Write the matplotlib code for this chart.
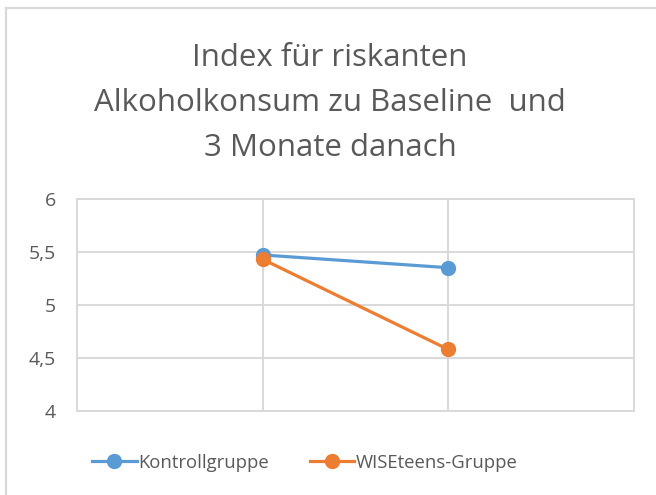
import matplotlib
matplotlib.use("Agg")
import matplotlib.pyplot as plt
from matplotlib.lines import Line2D
from matplotlib.ticker import FuncFormatter

title = "Index für riskanten\nAlkoholkonsum zu Baseline  und\n3 Monate danach"
series_names = ["Kontrollgruppe", "WISEteens-Gruppe"]
timepoints = ["Baseline", "3 Monate"]
kontroll = [5.47, 5.35]
wiseteens = [5.43, 4.58]
yticks = [4, 4.5, 5, 5.5, 6]

blue = "#5B9BD5"
orange = "#ED7D31"
grid = "#D9D9D9"
txt = "#595959"
font = "Open Sans"

fig = plt.figure(figsize=(6.56, 4.95), dpi=100)
ax = fig.add_axes([0.117, 0.1697, 0.8495, 0.4289])

x = [1, 2]
ax.plot(x, kontroll, color=blue, lw=2.3, marker="o", ms=10, label=series_names[0], zorder=3)
ax.plot(x, wiseteens, color=orange, lw=2.3, marker="o", ms=10, label=series_names[1], zorder=3)

ax.set_xlim(0, 3)
ax.set_ylim(4, 6)
ax.set_yticks(yticks)
ax.yaxis.set_major_formatter(FuncFormatter(lambda v, p: (f"{v:g}").replace(".", ",")))
ax.set_xticks([1, 2])
ax.set_xticklabels([])
ax.tick_params(axis="both", length=0)
ax.tick_params(axis="y", pad=15, labelsize=14, labelcolor=txt)
for lab in ax.get_yticklabels():
    lab.set_fontfamily(font)
ax.grid(True, color=grid, lw=1.4)
ax.set_axisbelow(True)
for s in ax.spines.values():
    s.set_color(grid)
    s.set_linewidth(1.4)

fig.text(0.503, 1 - 103 / 495, title, ha="center", va="center", fontsize=22.5, color=txt,
         family=font, linespacing=1.65)

handles = [Line2D([0], [0], color=blue, lw=2.3, marker="o", ms=10),
           Line2D([0], [0], color=orange, lw=2.3, marker="o", ms=10)]
leg = fig.legend(handles, series_names, loc="center", bbox_to_anchor=(0.465, 0.065),
                 ncol=2, frameon=False, handlelength=2.4, handletextpad=0.1,
                 columnspacing=2.2, prop={"family": font, "size": 13.3})
for t in leg.get_texts():
    t.set_color(txt)

# chart frame (top and left edges visible)
fig.add_artist(Line2D([5.5 / 656, 5.5 / 656], [0, 1 - 7.5 / 495], transform=fig.transFigure,
                      color=grid, lw=1.6))
fig.add_artist(Line2D([5.5 / 656, 1], [1 - 7.5 / 495, 1 - 7.5 / 495], transform=fig.transFigure,
                      color=grid, lw=1.6))

fig.savefig("out.png", dpi=100)
